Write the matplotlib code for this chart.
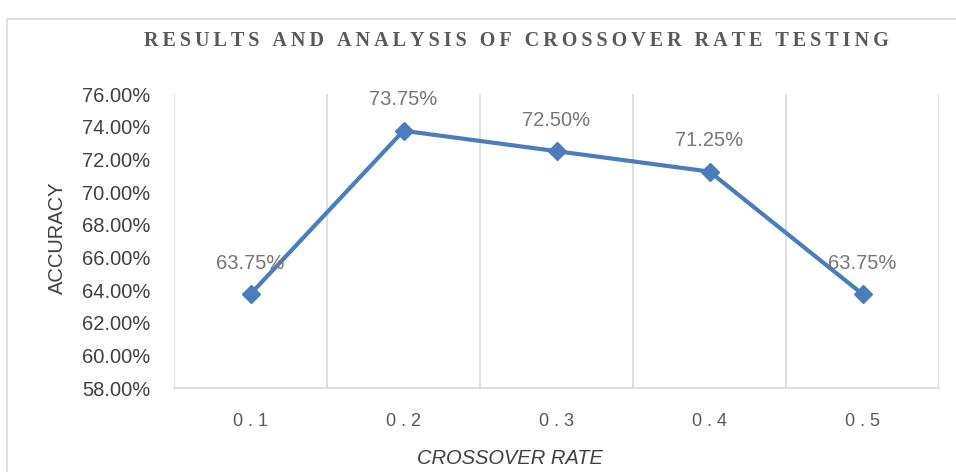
import matplotlib.pyplot as plt
from matplotlib.patches import Rectangle

# data
rates = ['0.1', '0.2', '0.3', '0.4', '0.5']
accuracy = [63.75, 73.75, 72.50, 71.25, 63.75]
yticks = [58, 60, 62, 64, 66, 68, 70, 72, 74, 76]

narrow = ['Liberation Sans Narrow', 'Liberation Sans']

fig = plt.figure(figsize=(9.56, 4.72), dpi=100)
ax = fig.add_axes([174/956, 1-388/472, (939-174)/956, (388-94)/472])

# light frame round the chart
fig.patches.append(Rectangle((7/956, -0.1), 1.2, 1.1-19/472, transform=fig.transFigure,
                             fill=False, edgecolor='#d9d9d9', linewidth=1.2))

x = list(range(len(rates)))
ax.plot(x, accuracy, color='#4a7ebb', linewidth=3, marker='D', markersize=9,
        markeredgecolor='#4a7ebb', zorder=3)

for xi, v in zip(x, accuracy):
    ax.annotate('{:.2f}%'.format(v), (xi, v), xytext=(0, 15.5), textcoords='offset points',
                ha='center', va='bottom', fontsize=14.5, color='#767676', family='Liberation Sans')

ax.set_xlim(-0.5, 4.5)
ax.set_ylim(58, 76)
ax.set_yticks(yticks)
ax.set_yticklabels(['{:.2f}%'.format(t) for t in yticks], fontsize=14.5, color='#404040',
                   family=narrow)
ax.set_xticks(x)
ax.set_xticklabels([' '.join(r) for r in rates], fontsize=13, color='#595959',
                   family=narrow)
ax.set_xticks([i - 0.5 for i in range(len(rates) + 1)], minor=True)
ax.grid(axis='x', which='minor', color='#d9d9d9', linewidth=1.2)
ax.tick_params(which='both', length=0)
ax.tick_params(axis='x', pad=18)
ax.tick_params(axis='y', pad=17)

for s in ['top', 'right', 'left']:
    ax.spines[s].set_visible(False)
ax.spines['bottom'].set_color('#d9d9d9')
ax.spines['bottom'].set_linewidth(1.2)

fig.text(57/956, 1-238/472, 'ACCURACY', rotation=90, ha='center', va='center',
         fontsize=14.5, color='#404040', family=narrow)
fig.text(510/956, 1-458/472, 'CROSSOVER RATE', ha='center', va='center',
         fontsize=14.5, color='#404040', family=narrow, style='italic')

title = '\u2009'.join('RESULTS AND ANALYSIS OF CROSSOVER RATE TESTING')
fig.text(516/956, 1-41/472, title, ha='center', va='center', fontsize=14.5,
         fontweight='bold', color='#595959', family=['Liberation Serif', 'DejaVu Serif'])

plt.savefig('out.png')
